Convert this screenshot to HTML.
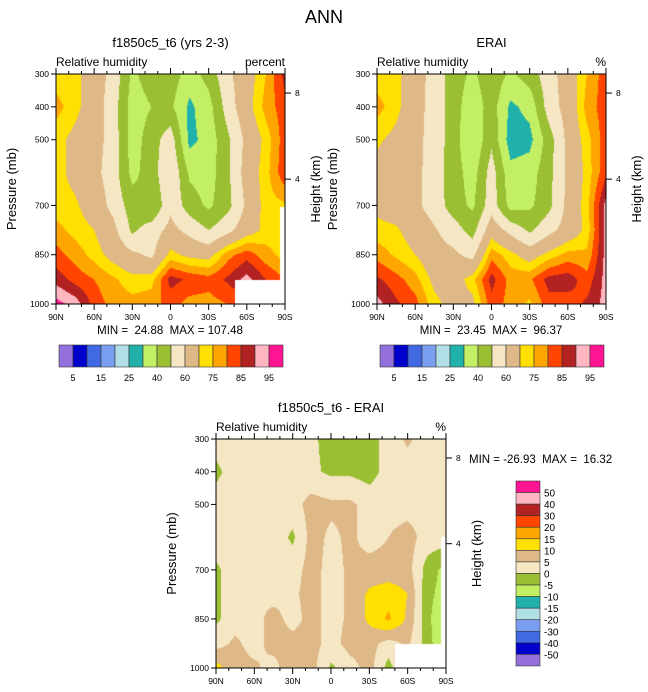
<!DOCTYPE html>
<html><head><meta charset="utf-8"><style>
body{margin:0;background:#fff;width:648px;height:692px;position:relative;overflow:hidden;font-family:"Liberation Sans",sans-serif;}
canvas{position:absolute;}
svg{position:absolute;left:0;top:0;}
text{white-space:pre;}
</style></head><body>
<canvas id="c1" width="229" height="230" style="left:56px;top:74px"></canvas>
<canvas id="c2" width="229" height="230" style="left:377px;top:74px"></canvas>
<canvas id="c3" width="230" height="229" style="left:216px;top:439px"></canvas>
<svg id="ov" width="648" height="692"></svg>
<script>
const lats=[90,75,60,45,30,15,0,-15,-30,-45,-60,-75,-90];
const pres=[300,400,500,600,700,775,850,925,1000];
const modelVals=[
[72,72,65,57,38,45,46,35,44,58,66,75,87],
[77,72,65,55,35,40,42,28,36,55,67,77,83],
[72,68,64,56,35,45,56,27,34,48,63,72,83],
[72,68,63,55,37,45,60,38,35,48,65,73,84],
[72,71,66,57,45,40,58,45,38,47,62,73,74],
[77,73,70,63,48,55,63,57,50,57,66,72,72],
[82,78,73,67,62,58,72,68,67,78,83,77,73],
[88,83,80,76,72,73,87,84,82,86,92,85,80],
[97,93,83,78,77,78,82,78,78,80,80,80,80]];
const eraiVals=[
[72,72,65,56,45,38,47,38,45,56,65,75,83],
[77,72,64,56,45,33,45,28,33,55,64,77,83],
[71,68,63,56,45,30,48,25,27,45,63,73,83],
[68,65,63,55,45,35,55,33,35,47,62,72,84],
[68,66,62,56,45,38,56,36,38,47,63,73,92],
[72,71,66,61,55,46,66,57,48,57,64,72,92],
[78,74,70,64,62,57,78,72,66,72,77,76,92],
[86,82,77,68,66,73,87,78,79,87,88,82,92],
[92,86,82,72,67,68,83,78,74,83,82,86,92]];
const diffVals=[
[2,2,2,1,2,1,-2,-1,-2,2,6,2,2],
[-1,2,2,2,2,1,-1,-1,-2,2,2,2,2],
[2,3,3,3,3,7,6,6,3,3,3,3,3],
[3,3,3,3,-1,7,4,6,3,5,7,3,3],
[-1,3,5,3,3,7,3,6,7,7,7,-2,-7],
[-1,3,5,3,4,7,3,6,11,13,10,-3,-8],
[-1,3,3,7,3,7,3,6,11,16,9,-3,-12],
[3,6,3,7,7,7,3,7,7,3,6,-2,-12],
[12,7,6,3,9,7,-1,3,7,-2,6,-2,-2]];
const absLevels=[5,10,15,20,25,30,40,50,60,70,75,80,85,90,95];
const absLabels=["5","15","25","40","60","75","85","95"];
const diffLevels=[-50,-40,-30,-20,-15,-10,-5,0,5,10,15,20,30,40,50];
const diffLabels=["50","40","30","20","15","10","5","0","-5","-10","-15","-20","-30","-40","-50"];
const palette=['#9370DB','#0000CD','#4169E1','#7B9FF0','#B0E0E6','#20B2AA','#C2EF64','#9ABF32','#F5E6C4','#DEB887','#FFE000','#FFA500','#FF4500','#B22222','#FFB6C1','#FF1493'];

function colorOf(v,lv){let i=0;while(i<lv.length&&v>=lv[i])i++;return palette[i];}
function interp(vals,lat,p){
  let c=0;while(c<lats.length-2&&lat<lats[c+1])c++;
  let r=0;while(r<pres.length-2&&p>pres[r+1])r++;
  const tx=(lats[c]-lat)/(lats[c]-lats[c+1]);
  const ty=(p-pres[r])/(pres[r+1]-pres[r]);
  const a=vals[r][c]*(1-tx)+vals[r][c+1]*tx;
  const b=vals[r+1][c]*(1-tx)+vals[r+1][c+1]*tx;
  return a*(1-ty)+b*ty;
}
function drawField(id,vals,lv){
  const cv=document.getElementById(id),ctx=cv.getContext('2d');
  const W=cv.width,H=cv.height,s=1;
  for(let y=0;y<H;y+=s)for(let x=0;x<W;x+=s){
    const lat=90-180*(x+s/2)/W, p=300+700*(y+s/2)/H;
    ctx.fillStyle=colorOf(interp(vals,lat,p),lv);ctx.fillRect(x,y,s,s);
  }
}
drawField('c1',modelVals,absLevels);
drawField('c2',eraiVals,absLevels);
drawField('c3',diffVals,diffLevels);
(function(){const c=document.getElementById('c1').getContext('2d');c.fillStyle='#fff';c.fillRect(179,206,50,24);c.fillRect(224,133,5,97);
const d=document.getElementById('c3').getContext('2d');d.fillStyle='#fff';d.fillRect(179,205,51,24);d.fillRect(225,98,5,131);})();

const NS='http://www.w3.org/2000/svg',ov=document.getElementById('ov');
function el(t,a,txt){const e=document.createElementNS(NS,t);for(const k in a)e.setAttribute(k,a[k]);if(txt!==undefined)e.textContent=txt;ov.appendChild(e);return e;}
function txt(x,y,s,str,anchor,name,extra){const e=el('text',Object.assign({x:x,y:y,'font-size':s,'text-anchor':anchor||'middle','font-family':'Liberation Sans, sans-serif',fill:'#000'},extra||{}),str);

return e;}

txt(324,23,18,'ANN','middle','main-title');
function panel(x0,y0,w,h,title,units,htX,key){
  txt(x0+w/2,y0-27,13,title,'middle',key+'-title');
  el('rect',{x:x0,y:y0,width:w,height:h,fill:'none',stroke:'#000','stroke-width':1});
  txt(x0,y0-8,12,'Relative humidity','start',key+'-variable-label');
  txt(x0+w,y0-8,12,units,'end',key+'-units-label');
  [300,400,500,700,850,1000].forEach(p=>{const y=y0+h*(p-300)/700;
    el('line',{x1:x0-5,y1:y,x2:x0,y2:y,stroke:'#000'});
    txt(x0-7,y+3,8.5,String(p),'end',key+'-y-tick-label');});
  const xl=['90N','60N','30N','0','30S','60S','90S'];
  for(let d=0;d<=180;d+=10){const x=x0+w*d/180,L=d%30==0?6:3;
    el('line',{x1:x,y1:y0,x2:x,y2:y0-L,stroke:'#000'});
    el('line',{x1:x,y1:y0+h,x2:x,y2:y0+h+L,stroke:'#000'});}
  xl.forEach((l,i)=>txt(x0+w*i/6,y0+h+16,8.5,l,'middle',key+'-x-tick-label'));
  [[358,'8'],[620,'4']].forEach(a=>{const y=y0+h*(a[0]-300)/700;
    el('line',{x1:x0+w,y1:y,x2:x0+w+6,y2:y,stroke:'#000'});
    txt(x0+w+10,y+3,8.5,a[1],'start',key+'-height-tick-label');});
  const yc=y0+h/2;
  txt(x0-40,yc,13,'Pressure (mb)','middle',key+'-y-axis-title',{transform:`rotate(-90 ${x0-40} ${yc})`});
  txt(htX,yc,13,'Height (km)','middle',key+'-height-axis-title',{transform:`rotate(-90 ${htX} ${yc})`});
}
panel(56,74,229,230,'f1850c5_t6 (yrs 2-3)','percent',320,'model');
panel(377,74,229,230,'ERAI','%',641,'erai');
panel(216,439,230,229,'f1850c5_t6 - ERAI','%',481,'diff');
txt(170,334,11.5,'MIN =  24.88  MAX = 107.48','middle','model-min-max');
txt(491,334,11.5,'MIN =  23.45  MAX =  96.37','middle','erai-min-max');
txt(469,463,11.5,'MIN = -26.93  MAX =  16.32','start','diff-min-max');

function hbar(x0,key){const bw=14,y=345,h=22;
  for(let i=0;i<16;i++){const r=el('rect',{x:x0+i*bw,y:y,width:bw,height:h,fill:palette[i],stroke:'#333','stroke-width':0.6});
    
    }
  absLabels.forEach((l,j)=>txt(x0+(2*j+1)*bw,y+h+14,9,l,'middle',key+'-colorbar-label'));}
hbar(59,'model');hbar(380,'erai');
(function(){const x0=516,y0=481,bh=11.56,bw=24;
  for(let i=0;i<16;i++){const r=el('rect',{x:x0,y:y0+i*bh,width:bw,height:bh,fill:palette[15-i],stroke:'#333','stroke-width':0.6});
    
    }
  diffLabels.forEach((l,j)=>txt(x0+bw+4,y0+(j+1)*bh+4,10,l,'start','diff-colorbar-label'));})();
</script>
</body></html>
